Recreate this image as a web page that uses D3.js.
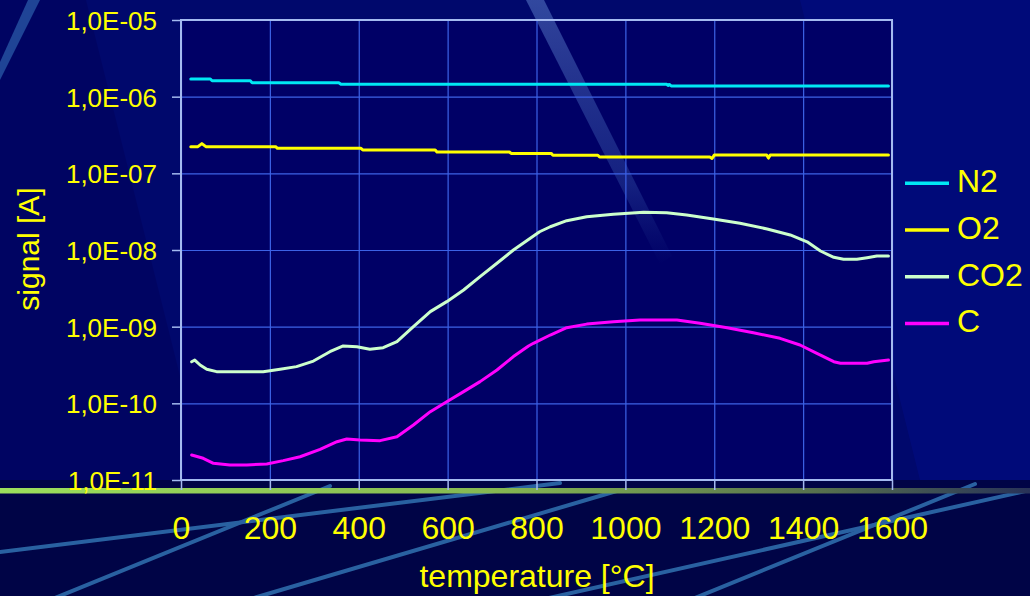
<!DOCTYPE html>
<html>
<head>
<meta charset="utf-8">
<script src="https://cdn.jsdelivr.net/npm/d3@7"></script>
<style>
  html, body { margin: 0; padding: 0; background: #00086c; }
  svg { display: block; }
  text { font-family: "Liberation Sans", Arial, sans-serif; fill: #ffff00; }
</style>
</head>
<body>
<svg id="chart" width="1030" height="596"></svg>
<script>
// ---------------- data ----------------
const seriesNames = ["N2", "O2", "CO2", "C"];
const seriesColors = ["#00e8f4", "#ffff00", "#ccffcc", "#ff00ff"];

const n2Temp = [22, 66, 70, 156, 160, 355, 360, 1093, 1096, 1099, 1103, 1592];
const n2Vals = [1.70e-6, 1.70e-6, 1.61e-6, 1.61e-6, 1.52e-6, 1.52e-6, 1.45e-6, 1.45e-6, 1.40e-6, 1.44e-6, 1.38e-6, 1.38e-6];

const o2Temp = [22, 38, 47, 56, 213, 217, 405, 409, 572, 576, 739, 743, 833, 837, 938, 942, 1190, 1195, 1200, 1318, 1322, 1326, 1592];
const o2Vals = [2.23e-7, 2.23e-7, 2.44e-7, 2.23e-7, 2.23e-7, 2.12e-7, 2.12e-7, 2.02e-7, 2.02e-7, 1.90e-7, 1.90e-7, 1.82e-7, 1.82e-7, 1.72e-7, 1.72e-7, 1.63e-7, 1.63e-7, 1.56e-7, 1.73e-7, 1.73e-7, 1.58e-7, 1.73e-7, 1.73e-7];

const co2Temp = [24, 31, 43, 58, 80, 185, 223, 260, 298, 335, 365, 396, 425, 455, 486, 523, 561, 598, 636, 673, 711, 748, 786, 807, 831, 868, 913, 973, 1041, 1093, 1138, 1198, 1258, 1319, 1371, 1409, 1439, 1469, 1491, 1521, 1544, 1566, 1592];
const co2Vals = [3.49e-10, 3.67e-10, 3.16e-10, 2.78e-10, 2.59e-10, 2.59e-10, 2.78e-10, 3.01e-10, 3.56e-10, 4.71e-10, 5.60e-10, 5.48e-10, 5.07e-10, 5.32e-10, 6.37e-10, 1.0e-9, 1.57e-9, 2.12e-9, 3.01e-9, 4.49e-9, 6.71e-9, 1.0e-8, 1.42e-8, 1.73e-8, 2.01e-8, 2.41e-8, 2.72e-8, 2.92e-8, 3.10e-8, 3.07e-8, 2.86e-8, 2.54e-8, 2.23e-8, 1.88e-8, 1.57e-8, 1.28e-8, 9.70e-9, 8.03e-9, 7.57e-9, 7.57e-9, 7.94e-9, 8.36e-9, 8.36e-9];

const cTemp = [24, 50, 73, 110, 148, 193, 230, 268, 313, 351, 373, 403, 448, 486, 523, 561, 598, 636, 673, 711, 748, 782, 793, 831, 868, 913, 973, 1033, 1116, 1168, 1229, 1288, 1348, 1393, 1431, 1469, 1484, 1544, 1559, 1592];
const cVals = [2.12e-11, 1.92e-11, 1.65e-11, 1.57e-11, 1.57e-11, 1.62e-11, 1.79e-11, 2.01e-11, 2.51e-11, 3.16e-11, 3.43e-11, 3.33e-11, 3.26e-11, 3.67e-11, 5.21e-11, 7.78e-11, 1.05e-10, 1.42e-10, 1.92e-10, 2.72e-10, 4.07e-10, 5.60e-10, 6.07e-10, 7.78e-10, 9.70e-10, 1.08e-9, 1.16e-9, 1.22e-9, 1.22e-9, 1.11e-9, 9.70e-10, 8.34e-10, 7.05e-10, 5.77e-10, 4.49e-10, 3.49e-10, 3.33e-10, 3.33e-10, 3.49e-10, 3.67e-10];

const xTicks = [0, 200, 400, 600, 800, 1000, 1200, 1400, 1600];
const yTicks = [1e-11, 1e-10, 1e-9, 1e-8, 1e-7, 1e-6, 1e-5];
const yTickLabels = ["1,0E-11", "1,0E-10", "1,0E-09", "1,0E-08", "1,0E-07", "1,0E-06", "1,0E-05"];
const xTitle = "temperature [°C]";
const yTitle = "signal [A]";

// ---------------- layout ----------------
const W = 1030, H = 596;
const plot = { left: 181, right: 892, top: 20, bottom: 480 };

const svg = d3.select("#chart");
const defs = svg.append("defs");

// ---------------- background ----------------
svg.append("rect").attr("width", W).attr("height", H).attr("fill", "#00086c");
// darker wedge on the left
svg.append("path").attr("d", "M0,0 L86,0 L206,480 L0,480 Z").attr("fill", "#000460").attr("opacity", 0.8);
// slightly lighter wedge on the right
svg.append("path").attr("d", "M800,0 L1030,0 L1030,480 L920,480 Z").attr("fill", "#000c82").attr("opacity", 0.6);
// plot area fill
svg.append("rect").attr("x", plot.left).attr("y", plot.top)
  .attr("width", plot.right - plot.left).attr("height", plot.bottom - plot.top)
  .attr("fill", "#000066");
// darker wedge inside plot at right
svg.append("path").attr("d", "M790,20 L892,20 L892,480 L900,480 Z").attr("fill", "#00005a").attr("opacity", 0.0);
// top-left light stripe
svg.append("path").attr("d", "M0,62 L28,0 L40,0 L0,80 Z").attr("fill", "#2a5aa8").attr("opacity", 0.75);

// translucent diagonal stripe
const sg = defs.append("linearGradient").attr("id", "stripe").attr("x1", 0).attr("y1", 0).attr("x2", 0).attr("y2", 1);
sg.append("stop").attr("offset", "0%").attr("stop-color", "#5a7cc8").attr("stop-opacity", 0.55);
sg.append("stop").attr("offset", "70%").attr("stop-color", "#3a5cb0").attr("stop-opacity", 0.35);
sg.append("stop").attr("offset", "100%").attr("stop-color", "#2a4ca0").attr("stop-opacity", 0.0);
svg.append("path").attr("d", "M526,0 L544,0 L672,256 L660,264 Z").attr("fill", "url(#stripe)");

// bottom dark panel
svg.append("rect").attr("x", 0).attr("y", plot.bottom).attr("width", W).attr("height", H - plot.bottom).attr("fill", "#000446");

// bottom decorative lines
const bl = svg.append("g").attr("stroke", "#2e6cab").attr("stroke-width", 4).attr("stroke-linecap", "round").attr("opacity", 0.9);
[[0, 552, 560, 483], [50, 600, 330, 486], [247, 600, 620, 490], [540, 600, 1030, 490], [690, 600, 975, 484]]
  .forEach(l => bl.append("line").attr("x1", l[0]).attr("y1", l[1]).attr("x2", l[2]).attr("y2", l[3]));

// green band
const gg = defs.append("linearGradient").attr("id", "band").attr("x1", 0).attr("y1", 0).attr("x2", 1).attr("y2", 0);
gg.append("stop").attr("offset", "0%").attr("stop-color", "#9ce05c");
gg.append("stop").attr("offset", "48%").attr("stop-color", "#86b852");
gg.append("stop").attr("offset", "80%").attr("stop-color", "#56704e");
gg.append("stop").attr("offset", "100%").attr("stop-color", "#283258");
svg.append("rect").attr("x", 0).attr("y", 488).attr("width", W).attr("height", 5.5).attr("fill", "url(#band)");

// ---------------- scales ----------------
const x = d3.scaleLinear().domain([0, 1600]).range([plot.left, plot.right]);
const y = d3.scaleLog().domain([1e-11, 1e-5]).range([plot.bottom, plot.top]);

// gridlines
const grid = svg.append("g");
grid.append("g").attr("transform", `translate(0,${plot.bottom})`)
  .call(d3.axisBottom(x).tickValues(xTicks).tickSize(-(plot.bottom - plot.top)).tickFormat(""))
  .call(g => g.select(".domain").remove())
  .call(g => g.selectAll("line").attr("stroke", "#3c62e6").attr("stroke-width", 1.2));
grid.append("g").attr("transform", `translate(${plot.left},0)`)
  .call(d3.axisLeft(y).tickValues(yTicks).tickSize(-(plot.right - plot.left)).tickFormat(""))
  .call(g => g.select(".domain").remove())
  .call(g => g.selectAll("line").attr("stroke", "#3c62e6").attr("stroke-width", 1.2));

// plot border
svg.append("rect").attr("x", plot.left).attr("y", plot.top)
  .attr("width", plot.right - plot.left).attr("height", plot.bottom - plot.top)
  .attr("fill", "none").attr("stroke", "#a4baf0").attr("stroke-width", 2);

// axes
const axX = svg.append("g").attr("transform", `translate(0,${plot.bottom})`)
  .call(d3.axisBottom(x).tickValues(xTicks).tickSize(10).tickPadding(0).tickFormat(d3.format("d")));
axX.select(".domain").remove();
axX.selectAll("line").attr("stroke", "#a4baf0").attr("stroke-width", 1.5);
axX.selectAll("text").attr("dy", null).attr("y", 59).attr("font-size", 32).attr("fill", "#ffff00")
  .style("font-family", '"Liberation Sans", Arial, sans-serif');

const axY = svg.append("g").attr("transform", `translate(${plot.left},0)`)
  .call(d3.axisLeft(y).tickValues(yTicks).tickSize(9).tickPadding(0).tickFormat((d, i) => yTickLabels[i]));
axY.select(".domain").remove();
axY.selectAll("line").attr("stroke", "#a4baf0").attr("stroke-width", 1.5);
axY.selectAll("text").attr("dy", null).attr("x", -24).attr("y", 9.5).attr("font-size", 26).attr("fill", "#ffff00")
  .style("font-family", '"Liberation Sans", Arial, sans-serif');

// titles
svg.append("text").attr("x", 537).attr("y", 587).attr("text-anchor", "middle").attr("font-size", 32).text(xTitle);
svg.append("text").attr("transform", "translate(39,249) rotate(-90)").attr("text-anchor", "middle").attr("font-size", 30).text(yTitle);

// ---------------- series ----------------
const seriesData = [
  n2Temp.map((t, i) => [t, n2Vals[i]]),
  o2Temp.map((t, i) => [t, o2Vals[i]]),
  co2Temp.map((t, i) => [t, co2Vals[i]]),
  cTemp.map((t, i) => [t, cVals[i]])
];
const line = d3.line().x(d => x(d[0])).y(d => y(d[1]));
svg.append("g").selectAll("path").data(seriesData).join("path")
  .attr("d", line).attr("fill", "none")
  .attr("stroke", (d, i) => seriesColors[i]).attr("stroke-width", 3)
  .attr("stroke-linejoin", "round").attr("stroke-linecap", "round");

// ---------------- legend ----------------
const leg = svg.append("g").selectAll("g").data(seriesNames).join("g")
  .attr("transform", (d, i) => `translate(905,${183.3 + i * 46.7})`);
leg.append("line").attr("x1", 0).attr("x2", 44).attr("y1", 0).attr("y2", 0)
  .attr("stroke", (d, i) => seriesColors[i]).attr("stroke-width", 3.5);
leg.append("text").attr("x", 52).attr("y", 9).attr("font-size", 32).text(d => d);
</script>
</body>
</html>
